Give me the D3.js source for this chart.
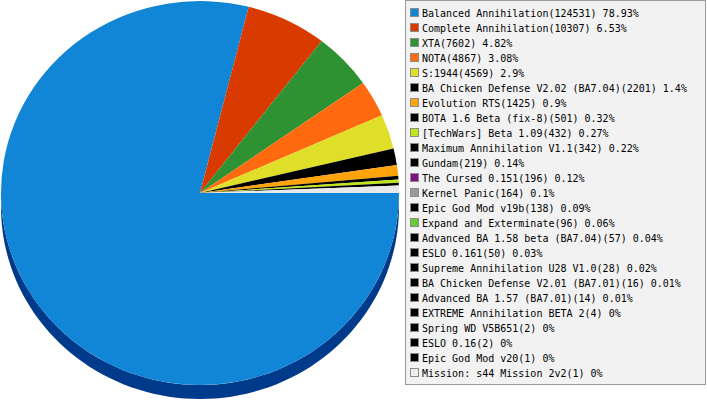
<!DOCTYPE html>
<html><head><meta charset="utf-8">
<script src="https://cdn.jsdelivr.net/npm/d3@7"></script>
<style>body{margin:0;background:#fff}svg{display:block}</style>
</head><body>
<svg id="c" width="707" height="400"></svg>
<script>
const categories = ["Balanced Annihilation","Complete Annihilation","XTA","NOTA","S:1944",
 "BA Chicken Defense V2.02 (BA7.04)","Evolution RTS","BOTA 1.6 Beta (fix-8)","[TechWars] Beta 1.09",
 "Maximum Annihilation V1.1","Gundam","The Cursed 0.151","Kernel Panic","Epic God Mod v19b",
 "Expand and Exterminate","Advanced BA 1.58 beta (BA7.04)","ESLO 0.161","Supreme Annihilation U28 V1.0",
 "BA Chicken Defense V2.01 (BA7.01)","Advanced BA 1.57 (BA7.01)","EXTREME Annihilation BETA 2",
 "Spring WD V5B651","ESLO 0.16","Epic God Mod v20","Mission: s44 Mission 2v2"];
const values = [124531,10307,7602,4867,4569,2201,1425,501,432,342,219,196,164,138,96,57,50,28,16,14,4,2,2,1,1];
const colors = ["#1286d6","#d93a00","#2f9232","#ff6a10","#dfdf2a","#000000","#ffa30b","#000000","#bfe61b",
 "#000000","#000000","#7f117f","#9a9a9a","#000000","#66cc33","#000000","#000000","#000000","#000000",
 "#000000","#000000","#000000","#000000","#000000","#eeeeee"];
const sideColors = {"#1286d6":"#003a8a"};
const otherColor = "#e8e8e8";
const otherThreshold = 1/720;

const svg = d3.select("#c");
const total = d3.sum(values);
const cx = 200, cy = 193, rx = 199, ry = 192, depth = 14;

// group small slices into "other"
const items = [];
let other = 0;
values.forEach((v,i)=>{ if (v/total < otherThreshold) other += v; else items.push({v, color: colors[i]}); });
if (other > 0) items.push({v: other, color: otherColor});

const pie = d3.pie().sort(null).value(d=>d.v).startAngle(Math.PI/2).endAngle(Math.PI/2 + 2*Math.PI);
const arcs = pie(items);

// screen angle (clockwise from +x) from d3 angle (clockwise from 12 o'clock)
const pt = (a, dy=0) => { const t = a - Math.PI/2; return [cx + rx*Math.cos(t), cy + dy + ry*Math.sin(t)]; };

// side walls (front half only: screen angles 0..PI => d3 angles PI/2..3PI/2)
const g = svg.append("g");
arcs.forEach(a => {
  const lo = Math.max(a.startAngle, Math.PI/2), hi = Math.min(a.endAngle, 3*Math.PI/2);
  if (hi <= lo) return;
  const n = 80, top = [], bot = [];
  for (let k=0;k<=n;k++){ const t = lo + (hi-lo)*k/n; top.push(pt(t)); bot.push(pt(t, depth)); }
  const p = d3.path();
  p.moveTo(...top[0]); top.slice(1).forEach(q=>p.lineTo(...q));
  bot.reverse().forEach(q=>p.lineTo(...q)); p.closePath();
  g.append("path").attr("d", p.toString())
   .attr("fill", sideColors[a.data.color] || d3.color(a.data.color).darker(1.2));
});

// top face
const arc = d3.arc().innerRadius(0).outerRadius(ry);
svg.append("g").attr("transform", `translate(${cx},${cy}) scale(${rx/ry},1)`)
  .selectAll("path").data(arcs).join("path")
  .attr("d", arc).attr("fill", d=>d.data.color);

// legend
const lg = svg.append("g");
const lx = 405.5, ly = 0.5, lw = 300, step = 15;
lg.append("rect").attr("x", lx).attr("y", ly).attr("width", lw)
  .attr("height", 384).attr("fill", "#f2f2f2").attr("stroke", "#9a9a9a");
const fmt = v => { const p = Math.round(v/total*10000)/100; return String(+p.toFixed(2)); };
categories.forEach((c,i)=>{
  const y = 8 + i*step;
  lg.append("rect").attr("x", 410.5).attr("y", y+0.5).attr("width", 8).attr("height", 8)
    .attr("fill", colors[i]).attr("stroke", "#8c8c8c");
  lg.append("text").attr("x", 422).attr("y", y + 8.5)
    .attr("font-family", "DejaVu Sans Mono").attr("font-size", 10).attr("fill", "#000")
    .text(`${c}(${values[i]}) ${fmt(values[i])}%`);
});
</script>
</body></html>
